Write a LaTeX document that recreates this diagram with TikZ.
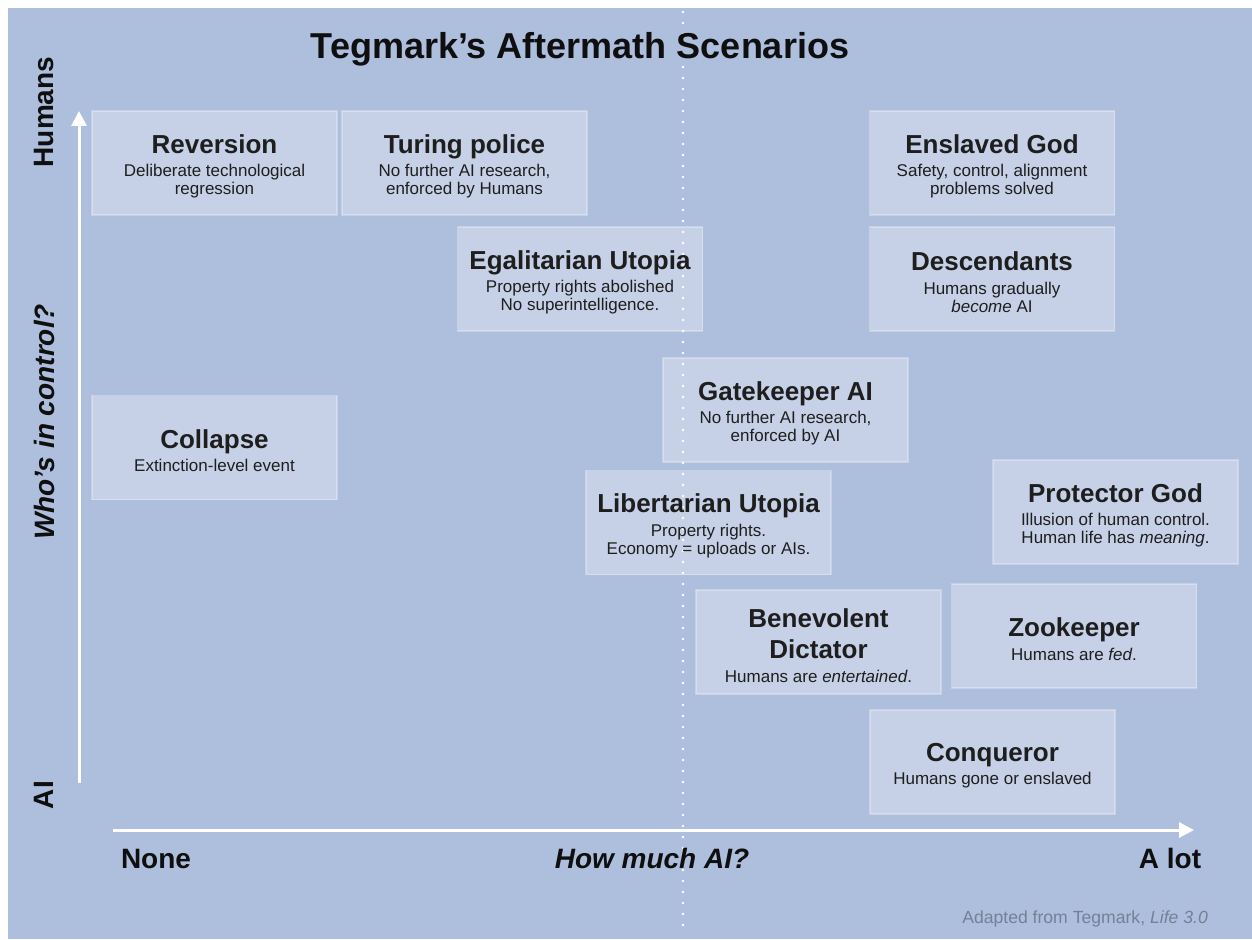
\documentclass[tikz,border=0pt]{standalone}
\usepackage{fontspec}
\setmainfont{Liberation Sans}
\usetikzlibrary{arrows.meta}
\definecolor{bg}{RGB}{174,190,221}
\definecolor{txt}{RGB}{15,15,15}
\definecolor{subtxt}{RGB}{30,30,30}
\definecolor{footgray}{RGB}{118,128,150}
\newcommand\ttl{\fontsize{26}{28}\selectfont\bfseries\rule{0pt}{25.5pt}}
\newcommand\axl{\fontsize{28}{30}\selectfont\bfseries}
\tikzset{
  scenbox/.style={fill=white, fill opacity=0.3, draw=white, draw opacity=0.3,
    line width=1.2pt, minimum width=245pt, minimum height=104pt,
    text opacity=1, text=subtxt, align=center, inner sep=0pt,
    font=\fontsize{17}{18}\selectfont},
  axisarrow/.style={draw=white, line width=3pt, -{Triangle[width=15pt,length=15pt]}},
  dotline/.style={draw=white, line width=2.6pt, line cap=round, dash pattern=on 0pt off 11pt},
  axislabel/.style={text=txt, font=\axl, inner sep=0pt}
}
\begin{document}
\begin{tikzpicture}[x=1pt,y=-1pt]
\useasboundingbox (0,0) rectangle (1252,939);
\fill[bg] (8,8) rectangle (1252,939);

% dotted divider
\coordinate (dtop) at (683,12);
\coordinate (dbot) at (683,936);
\draw[dotline] (dtop) -- (dbot);

% title
\node[text=txt, font=\fontsize{36}{38}\selectfont\bfseries, anchor=base] (title) at (580,59) {Tegmark’s Aftermath Scenarios};

% scenario boxes
\node[scenbox] (reversion) at (214.5,163) {{\ttl Reversion}\\[5.5pt]Deliberate technological\\regression};
\node[scenbox] (turing) at (464.5,163) {{\ttl Turing police}\\[5.5pt]No further AI research,\\enforced by Humans};
\node[scenbox] (enslaved) at (992,163) {{\ttl Enslaved God}\\[5.5pt]Safety, control, alignment\\problems solved};
\node[scenbox] (egal) at (580,279) {{\ttl Egalitarian Utopia}\\[5.5pt]Property rights abolished\\No superintelligence.};
\node[scenbox] (desc) at (992,279) {{\ttl Descendants}\\[5.5pt]Humans gradually\\\textit{become} AI};
\node[scenbox] (gate) at (785.5,410) {{\ttl Gatekeeper AI}\\[5.5pt]No further AI research,\\enforced by AI};
\node[scenbox] (collapse) at (214.5,447.5) {{\ttl Collapse}\\[5.5pt]Extinction-level event};
\node[scenbox] (liber) at (708.5,522.5) {{\ttl Libertarian Utopia}\\[5.5pt]Property rights.\\Economy = uploads or AIs.};
\node[scenbox] (protector) at (1115.5,512) {{\ttl Protector God}\\[5.5pt]Illusion of human control.\\Human life has \textit{meaning}.};
\node[scenbox] (benev) at (818.5,642) {{\ttl Benevolent}\\[5pt]{\ttl Dictator}\\[5.5pt]Humans are \textit{entertained}.};
\node[scenbox] (zoo) at (1074,636) {{\ttl Zookeeper}\\[5.5pt]Humans are \textit{fed}.};
\node[scenbox] (conq) at (992.5,762) {{\ttl Conqueror}\\[5.5pt]Humans gone or enslaved};

% axes
\coordinate (yfrom) at (79,783);
\coordinate (yto) at (79,111);
\coordinate (xfrom) at (113,830);
\coordinate (xto) at (1194,830);
\draw[axisarrow] (yfrom) -- (yto);
\draw[axisarrow] (xfrom) -- (xto);

% axis labels
\node[axislabel, rotate=90] (humans) at (44,112) {Humans};
\node[axislabel, rotate=90, font=\axl\itshape] (who) at (44,422) {Who’s in control?};
\node[axislabel, rotate=90] (ai) at (44,795) {AI};
\node[axislabel, anchor=base] (none) at (156,868) {None};
\node[axislabel, anchor=base, font=\axl\itshape] (how) at (652,868) {How much AI?};
\node[axislabel, anchor=base] (alot) at (1170,868) {A lot};

% footer
\node[text=footgray, font=\fontsize{17.6}{19}\selectfont, anchor=base east, inner sep=0pt] (foot) at (1208,923) {Adapted from Tegmark, \textit{Life 3.0}};
\end{tikzpicture}
\end{document}
